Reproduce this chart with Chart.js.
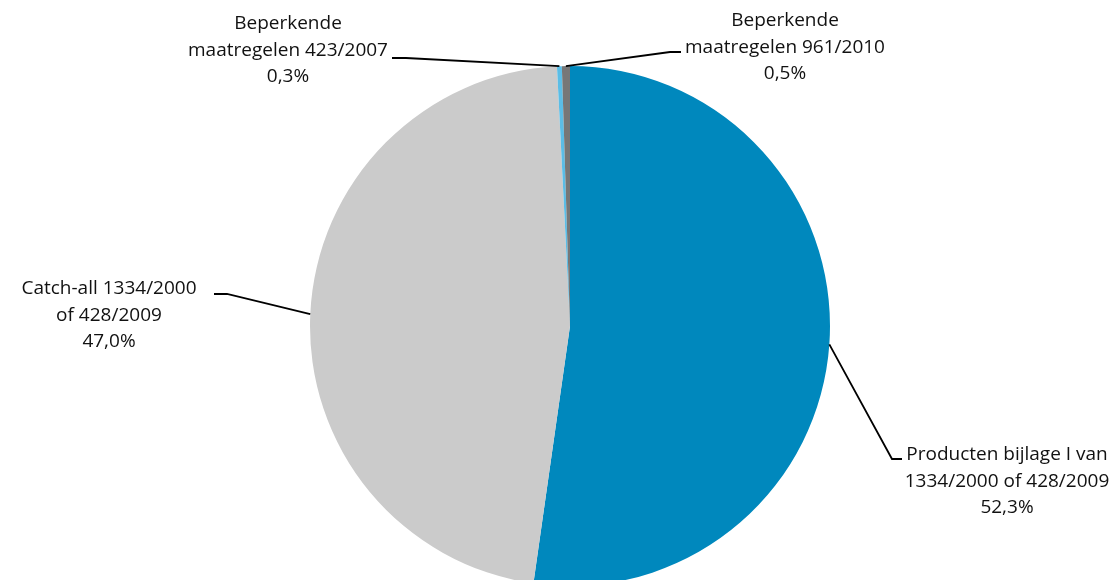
<!DOCTYPE html>
<html>
<head>
<meta charset="utf-8">
<script src="https://cdn.jsdelivr.net/npm/chart.js@4.4.1/dist/chart.umd.min.js"></script>
<style>
  html, body { margin: 0; padding: 0; background: #fff; }
  #wrap { width: 1111px; height: 580px; position: relative; }
</style>
</head>
<body>
<div id="wrap"><canvas id="pie"></canvas></div>
<script>
// categories and values (percent)
const categories = [
    ['Producten bijlage I van', '1334/2000 of 428/2009'],
    ['Catch-all 1334/2000', 'of 428/2009'],
    ['Beperkende', 'maatregelen 423/2007'],
    ['Beperkende', 'maatregelen 961/2010']
];
const shares = [52.3, 47.0, 0.3, 0.5];
const shareLabels = ['52,3%', '47,0%', '0,3%', '0,5%'];
const sliceColors = ['#0088bd', '#cbcbcb', '#5bbde6', '#777777'];

// where each label sits: text centre x, first line y, elbow and end of leader line
const labelLayout = [
    { tx: 1007, ty: 455, elbow: [892, 459], end: [902, 459] },
    { tx: 109,  ty: 289, elbow: [227, 294], end: [214, 294] },
    { tx: 288,  ty: 24,  elbow: [406, 58],  end: [392, 58] },
    { tx: 785,  ty: 21,  elbow: [670, 52],  end: [681, 52] }
];

const leaderLabels = {
    id: 'leaderLabels',
    afterDatasetsDraw(chart) {
        const ctx = chart.ctx;
        const meta = chart.getDatasetMeta(0);
        ctx.save();
        meta.data.forEach((arc, i) => {
            const p = arc.getProps(['x', 'y', 'startAngle', 'endAngle', 'outerRadius'], true);
            const mid = (p.startAngle + p.endAngle) / 2;
            const sx = p.x + Math.cos(mid) * p.outerRadius;
            const sy = p.y + Math.sin(mid) * p.outerRadius;
            const lay = labelLayout[i];
            ctx.beginPath();
            ctx.strokeStyle = '#000';
            ctx.lineWidth = 1.8;
            ctx.moveTo(sx, sy);
            ctx.lineTo(lay.elbow[0], lay.elbow[1]);
            ctx.lineTo(lay.end[0], lay.end[1]);
            ctx.stroke();

            ctx.fillStyle = '#111';
            ctx.font = '19px "Open Sans", Lato, sans-serif';
            ctx.textAlign = 'center';
            ctx.textBaseline = 'middle';
            const lines = categories[i].concat([shareLabels[i]]);
            lines.forEach((t, k) => {
                ctx.fillText(t, lay.tx, lay.ty + k * 26.5);
            });
        });
        ctx.restore();
    }
};

const canvas = document.getElementById('pie').getContext('2d');
new Chart(canvas, {
    type: 'pie',
    data: {
        labels: categories.map(c => c.join(' ')),
        datasets: [{
            data: shares,
            backgroundColor: sliceColors,
            borderWidth: 0,
            radius: 260
        }]
    },
    options: {
        responsive: true,
        maintainAspectRatio: false,
        animation: false,
        layout: { padding: { left: 29, right: 0, top: 72, bottom: 0 } },
        plugins: {
            legend: { display: false },
            tooltip: { enabled: false }
        }
    },
    plugins: [leaderLabels]
});
</script>
</body>
</html>
